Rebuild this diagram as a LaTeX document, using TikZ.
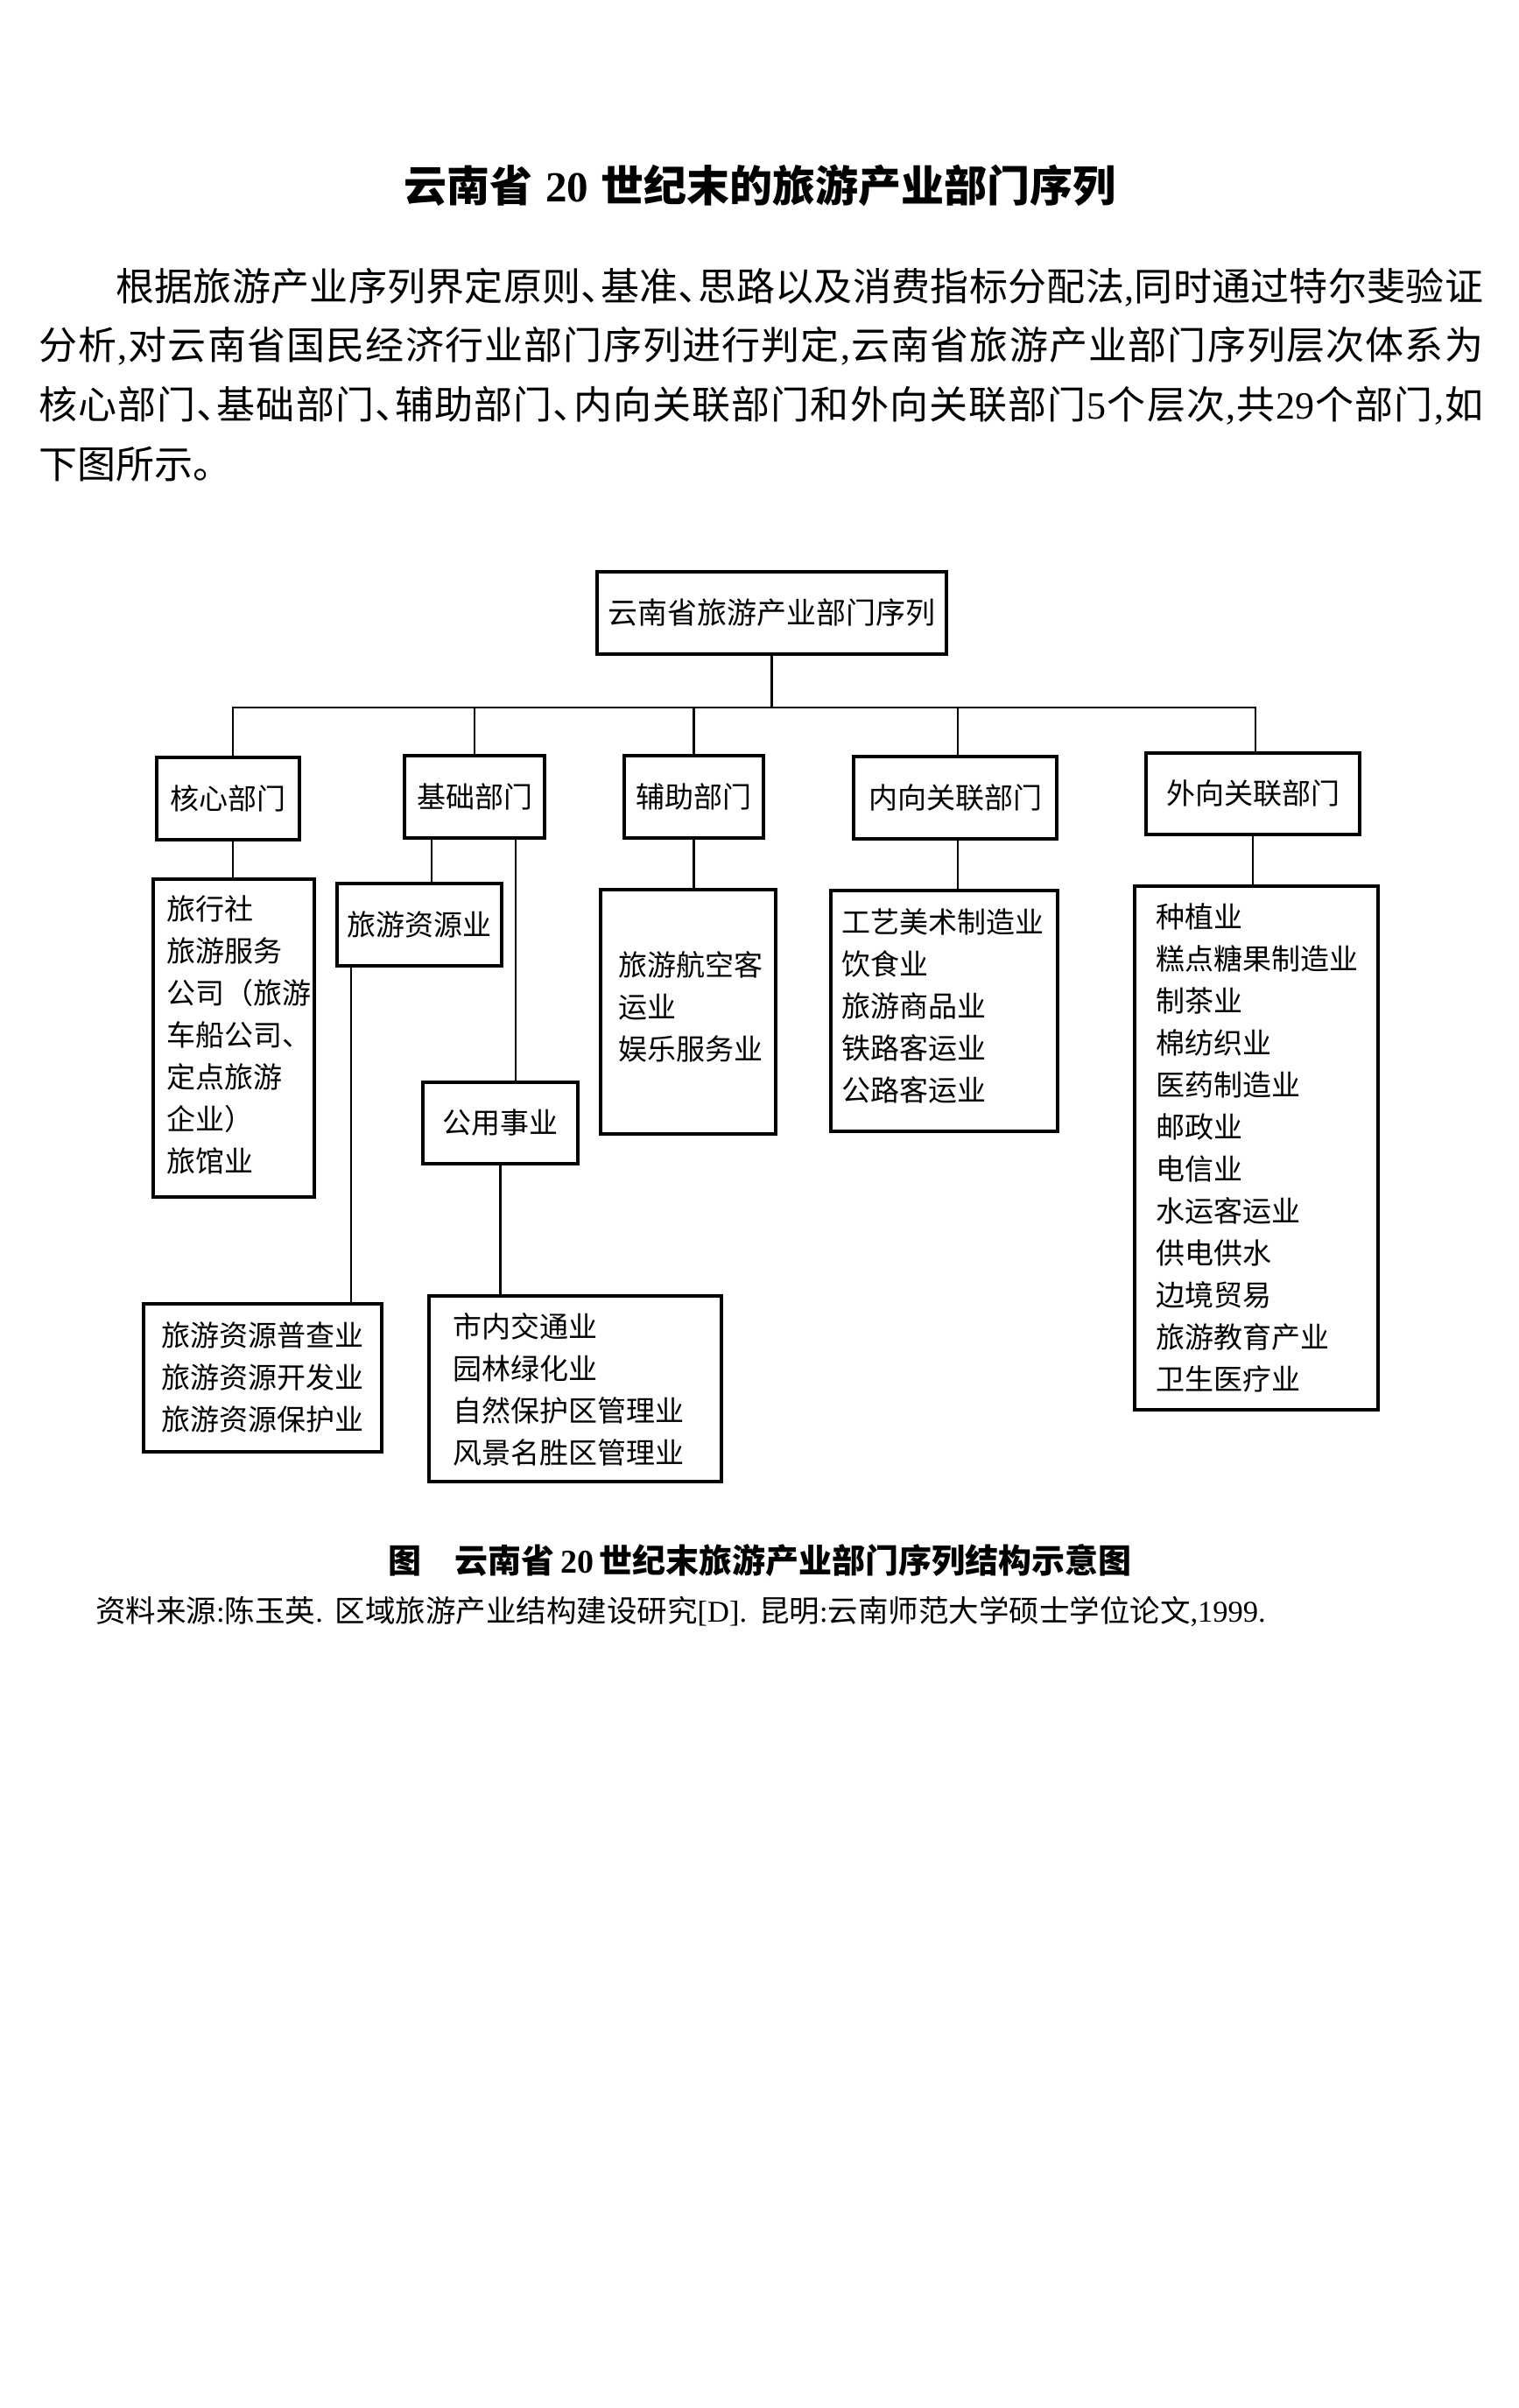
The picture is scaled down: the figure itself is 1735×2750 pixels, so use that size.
\documentclass[tikz,border=0pt]{standalone}
\usepackage{fontspec}
\setmainfont{Noto Sans CJK SC}
\newfontfamily\latf{Liberation Serif}
\newcommand\lat[1]{{\latf #1}}
\makeatletter
\newcommand\spreadline[2]{\hbox to #1{\let\sp@sep\relax\@tfor\sp@tok:=#2\do{\sp@sep\sp@tok\let\sp@sep\hfil}}}
\makeatother
\newcommand\hw[1]{\makebox[0.5em][l]{#1}}
\tikzset{
  box/.style={draw, line width=3.2pt, inner sep=0pt, font=\fontsize{33}{40}\selectfont},
  lbox/.style={draw, line width=3.2pt, inner sep=0pt},
  listtxt/.style={anchor=north west, inner sep=0pt, text width=#1, align=left,
                  font=\fontsize{33}{48}\selectfont, text height=12.5pt},
  conn/.style={line width=2.7pt},
  para/.style={anchor=west, inner sep=0pt, font=\fontsize{44}{50}\selectfont}
}
\begin{document}
\begin{tikzpicture}[x=1pt,y=-1pt]
\useasboundingbox (0,0) rectangle (1735,2750);

% title and paragraph
\node (title) at (868,212) {\bfseries\fontsize{49}{54}\selectfont 云南省\hspace{0.3em}\lat{20}\hspace{0.3em}世纪末的旅游产业部门序列};
\node[para] (p1) at (132,328) {\spreadline{1562pt}{根据旅游产业序列界定原则{\hw{、}}基准{\hw{、}}思路以及消费指标分配法{\lat{,}}同时通过特尔斐验证}};
\node[para] (p2) at (44,395) {\spreadline{1650pt}{分析{\lat{,}}对云南省国民经济行业部门序列进行判定{\lat{,}}云南省旅游产业部门序列层次体系为}};
\node[para] (p3) at (44,463) {\spreadline{1650pt}{核心部门{\hw{、}}基础部门{\hw{、}}辅助部门{\hw{、}}内向关联部门和外向关联部门{\lat{5}}个层次{\lat{,}}共{\lat{29}}个部门{\lat{,}}如}};
\node[para] (p4) at (44,530) {下图所示。};

% boxes
\node[box, font=\fontsize{34}{40}\selectfont, minimum width=399pt, minimum height=94pt] (top) at (881.5,700) {云南省旅游产业部门序列};
\node[box, minimum width=163pt, minimum height=94pt] (hx) at (260.5,912) {核心部门};
\node[box, minimum width=160pt, minimum height=94pt] (jc) at (542,910) {基础部门};
\node[box, minimum width=159pt, minimum height=94pt] (fz) at (792.5,910) {辅助部门};
\node[box, minimum width=232pt, minimum height=94pt] (nx) at (1091,911) {内向关联部门};
\node[box, minimum width=244pt, minimum height=93pt] (wx) at (1431,906.5) {外向关联部门};
\node[box, minimum width=188pt, minimum height=94pt] (zy) at (479,1056) {旅游资源业};
\node[box, minimum width=177pt, minimum height=93pt] (gy) at (571.5,1282.5) {公用事业};

\node[lbox, minimum width=184pt, minimum height=363pt] (hxc) at (267,1185.5) {};
\node[lbox, minimum width=272pt, minimum height=169pt] (zyc) at (300,1573.5) {};
\node[lbox, minimum width=334pt, minimum height=212pt] (gyc) at (657,1586) {};
\node[lbox, minimum width=200pt, minimum height=279pt] (fzc) at (786,1155.5) {};
\node[lbox, minimum width=259pt, minimum height=275pt] (nxc) at (1078.5,1154.5) {};
\node[lbox, minimum width=278pt, minimum height=598pt] (wxc) at (1435,1311) {};

% list texts
\node[listtxt=180pt] (hxt) at (190,1038) {旅行社\\旅游服务\\公司（旅游\\车船公司、\\定点旅游\\企业）\\旅馆业};
\node[listtxt=260pt] (zyt) at (184,1525) {旅游资源普查业\\旅游资源开发业\\旅游资源保护业};
\node[listtxt=300pt] (gyt) at (517,1515) {市内交通业\\园林绿化业\\自然保护区管理业\\风景名胜区管理业};
\node[listtxt=190pt] (fzt) at (706,1102) {旅游航空客\\运业\\娱乐服务业};
\node[listtxt=250pt] (nxt) at (961,1053) {工艺美术制造业\\饮食业\\旅游商品业\\铁路客运业\\公路客运业};
\node[listtxt=260pt] (wxt) at (1320,1047) {种植业\\糕点糖果制造业\\制茶业\\棉纺织业\\医药制造业\\邮政业\\电信业\\水运客运业\\供电供水\\边境贸易\\旅游教育产业\\卫生医疗业};

% connectors
\coordinate (bL) at (266,808);
\coordinate (bR) at (1434,808);
\coordinate (n1) at (1094,808);
\coordinate (j1) at (493,957);
\coordinate (j2) at (589,957);
\coordinate (z1) at (401,1103);
\draw[conn] (top.south) -- (top.south |- bL);
\draw[conn] (hx.north -| bL) -- (bL) -- (bR) -- (bR |- wx.north);
\draw[conn] (bL |- hx.south) -- (bL |- hxc.north);
\draw[conn] (jc.north |- bL) -- (jc.north);
\draw[conn] (j1) -- (j1 |- zy.north);
\draw[conn] (j2) -- (j2 |- gy.north);
\draw[conn] (z1) -- (z1 |- zyc.north);
\draw[conn] (gy.south) -- (gy.south |- gyc.north);
\draw[conn] (fz.north |- bL) -- (fz.north);
\draw[conn] (fz.south) -- (fz.south |- fzc.north);
\draw[conn] (n1) -- (n1 |- nx.north);
\draw[conn] (n1 |- nx.south) -- (n1 |- nxc.north);
\draw[conn] (wx.south) -- (wx.south |- wxc.north);

% caption and source
\node (cap) at (868,1782) {\bfseries\fontsize{38}{42}\selectfont 图\hspace{1.0em}云南省\,{\latf\bfseries 20}\,世纪末旅游产业部门序列结构示意图};
\node[anchor=west, inner sep=0pt] (src) at (109,1840) {\fontsize{34.5}{38}\selectfont 资料来源\lat{:}陈玉英\lat{.}\hspace{0.4em}区域旅游产业结构建设研究\lat{[D].}\hspace{0.4em}昆明\lat{:}云南师范大学硕士学位论文\lat{,1999.}};
\end{tikzpicture}
\end{document}
